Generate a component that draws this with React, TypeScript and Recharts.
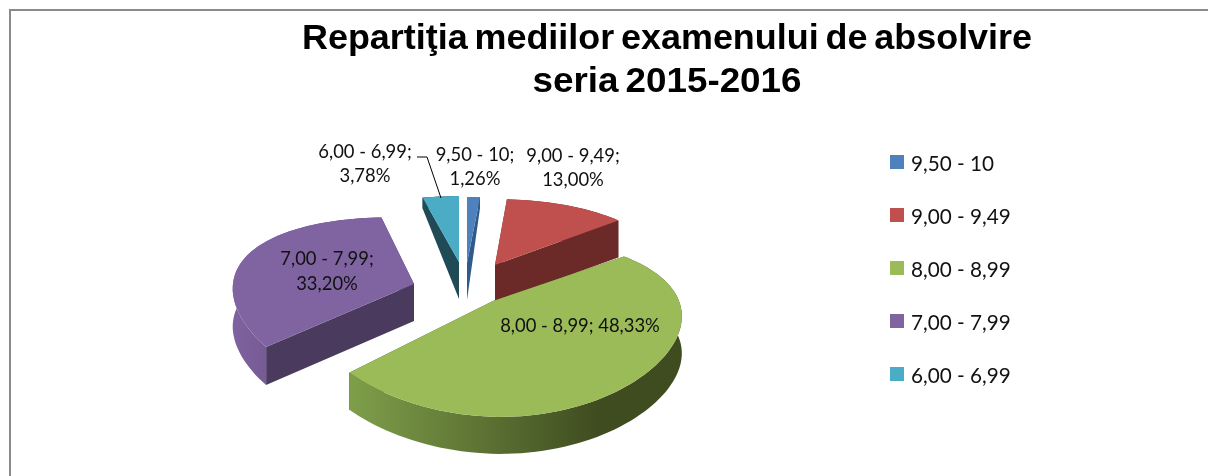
import { PieChart, Pie, Legend } from "recharts"

const CATEGORIES = ["9,50 - 10", "9,00 - 9,49", "8,00 - 8,99", "7,00 - 7,99", "6,00 - 6,99"]
const PERCENTS = [1.26, 13.0, 48.33, 33.2, 3.78]
const TITLE_LINES = ["Repartiţia mediilor examenului de absolvire", "seria 2015-2016"]
const TITLE_WIDTHS = [730, 269]

const TOP_COLORS = ["#4f81bd", "#c0504d", "#9bbb59", "#8064a2", "#4bacc6"]
const CUT_COLORS = ["#2f5b8c", "#6b2a28", "#46501f", "#4a3a5e", "#1f4a56"]
// wall shading, left to right
const WALL_COLORS = [
  ["#2f5b8c", "#2f5b8c"],
  ["#6b2a28", "#6b2a28"],
  ["#7f9f4a", "#3f4c20"],
  ["#7f62a0", "#5f4a7a"],
  ["#1f4a56", "#1f4a56"],
]

const W = 1208
const H = 476
const FONT = "Lato, Carlito, sans-serif"

// pie projection (tilt + perspective, like the old 3-D pie)
const RX = 186
const RY = 84
const PERSP_X = 0.14
const PERSP_Y = 0.275
const DEPTH = 37

// explosion of each slice: where its tip lands, plus small corrections
const TIPS = [
  { x: 467, y: 263, sx: 1, skewY: 0, skewX: 0, rim: 11 },
  { x: 495, y: 265, sx: 0.92, skewY: 0, skewX: 0, rim: 37 },
  { x: 493, y: 301, sx: 1, skewY: 0, skewX: 0.07, rim: 37 },
  { x: 414, y: 284, sx: 0.96, skewY: 0.06, skewX: -0.07, rim: 38 },
  { x: 459, y: 262, sx: 0.94, skewY: 0, skewX: 0, rim: 11 },
]

// label centres; one-liners use only the first row
const LABEL_POS = [
  { x: 475, y: [154, 178] },
  { x: 573, y: [155, 179] },
  { x: 580, y: [325] },
  { x: 327, y: [258, 283] },
  { x: 365, y: [151, 175] },
]

const tableData = CATEGORIES.map((name, i) => ({ name, value: PERCENTS[i], fill: TOP_COLORS[i] }))

const fmt = (v: number) => v.toFixed(2).replace(".", ",") + "%"

function project(clockDeg: number, i: number) {
  const a = (clockDeg * Math.PI) / 180
  const u = Math.sin(a)
  const v = -Math.cos(a)
  const t = TIPS[i]
  const px = (RX * t.sx * u) / (1 - PERSP_X * v)
  const py = (RY * v) / (1 - PERSP_Y * v)
  return { x: t.x + px + t.skewX * py, y: t.y + py + t.skewY * px }
}

function poly(pts: { x: number; y: number }[]) {
  return pts.map((p, k) => `${k ? "L" : "M"}${p.x.toFixed(1)} ${p.y.toFixed(1)}`).join(" ") + " Z"
}

function Slice3D(props: any) {
  const { startAngle, endAngle, index: i } = props
  const from = 90 - startAngle
  const to = 90 - endAngle
  const steps = Math.max(6, Math.ceil((to - from) / 2))
  const arc = Array.from({ length: steps + 1 }, (_, k) => project(from + ((to - from) * k) / steps, i))
  const tip = TIPS[i]
  const rim = tip.rim
  const down = (p: { x: number; y: number }, d = rim) => ({ x: p.x, y: p.y + d })
  const xs = arc.map((p) => p.x)
  const gid = `wall-${i}`
  const last = arc[arc.length - 1]
  return (
    <g>
      <defs>
        <linearGradient id={gid} gradientUnits="userSpaceOnUse" x1={Math.min(...xs)} x2={Math.max(...xs)} y1={0} y2={0}>
          <stop offset="0" stopColor={WALL_COLORS[i][0]} />
          <stop offset="0.75" stopColor={WALL_COLORS[i][1]} />
          <stop offset="1" stopColor={WALL_COLORS[i][1]} />
        </linearGradient>
      </defs>
      <path d={poly([tip, arc[0], down(arc[0]), down(tip, DEPTH)])} fill={CUT_COLORS[i]} />
      <path d={poly([tip, last, down(last), down(tip, DEPTH)])} fill={CUT_COLORS[i]} />
      <path d={poly([...arc, ...arc.map((p) => down(p)).reverse()])} fill={`url(#${gid})`} />
      <path d={poly([tip, ...arc])} fill={TOP_COLORS[i]} />
    </g>
  )
}

function SliceLabel(props: any) {
  const { index: i } = props
  const pos = LABEL_POS[i]
  const name = CATEGORIES[i]
  const pct = fmt(PERCENTS[i])
  const lines = pos.y.length === 1 ? [`${name}; ${pct}`] : [`${name};`, pct]
  return (
    <g>
      {i === 4 && <polyline points="417,157 427,157 441,198" fill="none" stroke="#000" strokeWidth={1} />}
      {lines.map((line, k) => (
        <text key={k} x={pos.x} y={pos.y[k]} textAnchor="middle" dominantBaseline="central"
          fontFamily={FONT} fontSize={18.4} fill="#111">
          {line}
        </text>
      ))}
    </g>
  )
}

function LegendBox({ payload }: any) {
  return (
    <div style={{ fontFamily: FONT, fontSize: 20.7, color: "#111" }}>
      {(payload || []).map((item: any) => (
        <div key={item.value} style={{ height: 53, display: "flex", alignItems: "flex-start" }}>
          <span style={{ width: 14, height: 14, marginTop: 6, marginRight: 7, background: item.color }} />
          <span style={{ lineHeight: "28px", whiteSpace: "nowrap" }}>{item.value}</span>
        </div>
      ))}
    </div>
  )
}

export default function App() {
  return (
    <div style={{ position: "absolute", left: 0, top: 0, width: W, height: H, background: "#fff", overflow: "hidden", filter: "blur(0.5px)" }}>
      <div style={{ position: "absolute", left: 9, top: 9, right: 0, height: 2, background: "#8a8a8a" }} />
      <div style={{ position: "absolute", left: 9, top: 9, bottom: 0, width: 2, background: "#8a8a8a" }} />
      <PieChart width={W} height={H} margin={{ top: 0, right: 0, bottom: 0, left: 0 }}>
        {TITLE_LINES.map((line, k) => (
          <text key={k} x={667} y={49 + k * 43} textAnchor="middle" fontFamily="'Liberation Sans', Arial, sans-serif"
            fontWeight="bold" fontSize={35} wordSpacing={-3} textLength={TITLE_WIDTHS[k]} lengthAdjust="spacingAndGlyphs" fill="#000">
            {line}
          </text>
        ))}
        <Pie data={tableData} dataKey="value" nameKey="name" cx={465} cy={300} outerRadius={150}
          startAngle={90} endAngle={-270} stroke="none" isAnimationActive={false}
          shape={Slice3D} label={SliceLabel} labelLine={false} />
        <Legend layout="vertical" align="left" verticalAlign="top" content={LegendBox} itemSorter={null}
          wrapperStyle={{ left: 890, top: 149, width: 200 }} />
      </PieChart>
    </div>
  )
}
